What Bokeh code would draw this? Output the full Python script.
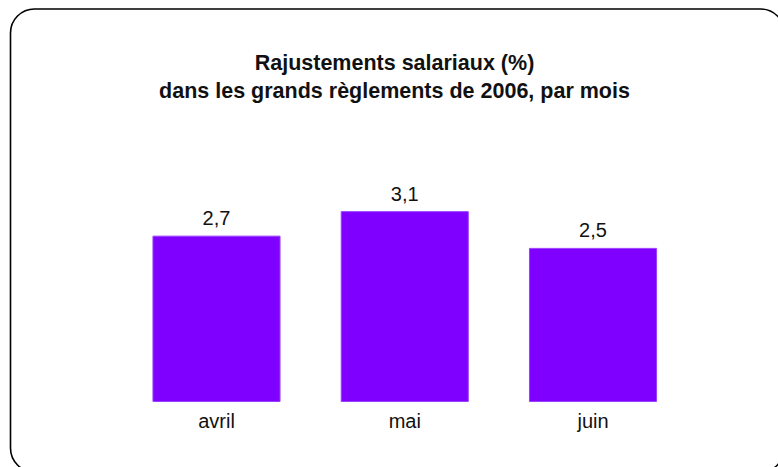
from bokeh.plotting import figure
from bokeh.models import ColumnDataSource, Range1d, Label, BoxAnnotation
from bokeh.core.properties import value
from bokeh.embed import file_html
from bokeh.resources import INLINE

months = ["avril", "mai", "juin"]
adjustments = [2.7, 3.1, 2.5]
value_labels = ["2,7", "3,1", "2,5"]
title_lines = ["Rajustements salariaux (%)", "dans les grands règlements de 2006, par mois"]

W, H = 778, 467
positions = list(range(len(months)))

src = ColumnDataSource(dict(x=positions, top=adjustments, lab=value_labels, cat=months))

p = figure(width=W, height=H, output_backend="svg", toolbar_location=None,
           x_range=Range1d(-1.1474, 2.9854), y_range=Range1d(-1.0776, 6.547),
           min_border=0, min_border_left=0, min_border_right=0,
           min_border_top=0, min_border_bottom=0)
p.axis.visible = False
p.grid.visible = False
p.outline_line_color = None
p.background_fill_color = "white"
p.border_fill_color = "white"

p.vbar(x="x", top="top", bottom=0, width=0.675, source=src,
       fill_color="#8000FF", line_color="#9a40ff", line_width=1)

font = value("Liberation Sans")
p.text(x="x", y="top", text="lab", source=src, text_font=font,
       text_font_size="20px", text_align="center", text_baseline="alphabetic",
       y_offset=-18, text_color="#111111")
p.text(x="x", y=0, text="cat", source=src, text_font=font,
       text_font_size="20px", text_align="center", text_baseline="alphabetic",
       y_offset=20, text_color="#111111")

for txt, yb in zip(title_lines, [H - 62, H - 90]):
    p.add_layout(Label(x=W / 2 + 5, y=yb, x_units="screen", y_units="screen", text=txt,
                       text_font="Liberation Sans", text_font_size="21.5px",
                       text_font_style="bold", text_align="center",
                       text_baseline="alphabetic", text_color="#111111"))

frame = BoxAnnotation(left=10, right=784, top=8.5, bottom=471.5,
                      left_units="canvas", right_units="canvas",
                      top_units="canvas", bottom_units="canvas",
                      fill_alpha=0, line_color="#000000", line_alpha=1.0,
                      line_width=1.6, border_radius=24, editable=False)
p.add_layout(frame)

open("out.html", "w").write(file_html(p, INLINE))
